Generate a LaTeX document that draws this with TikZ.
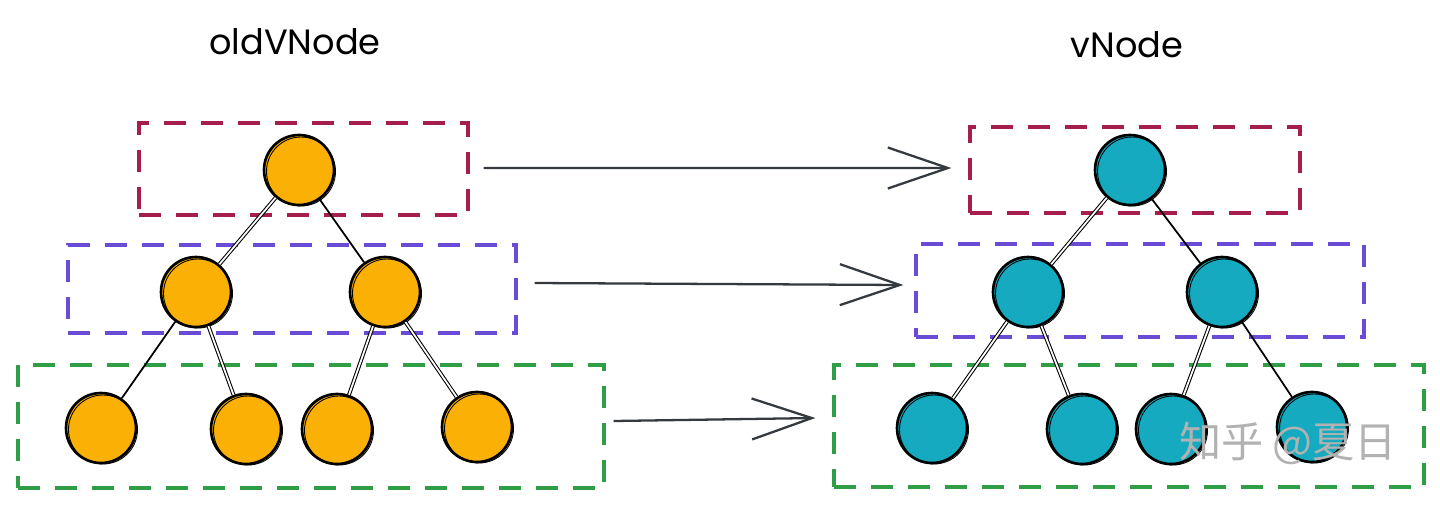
\documentclass[tikz,border=0pt]{standalone}
\usepackage{fontspec}
\newfontfamily\titlefont{Poppins}
\newfontfamily\cjkfont{Noto Sans CJK SC}
\usetikzlibrary{arrows.meta}
\definecolor{orangefill}{HTML}{FAB005}
\definecolor{tealfill}{HTML}{15AABF}
\definecolor{boxmaroon}{HTML}{A61E4D}
\definecolor{boxviolet}{HTML}{6A4BD6}
\definecolor{boxgreen}{HTML}{2F9E44}
\definecolor{arrowgray}{HTML}{343A40}
\begin{document}
\begin{tikzpicture}[x=0.02cm,y=-0.02cm,
  tnode/.style={circle,draw=black,line width=1.5pt,minimum size=1.4cm,inner sep=0pt},
  oldn/.style={tnode,fill=orangefill},
  newn/.style={tnode,fill=tealfill},
  lvlbox/.style={rectangle,dash pattern=on 0.44cm off 0.3cm,line width=1.9pt,inner sep=0pt},
  edgeone/.style={line width=1pt,draw=black},
  edgetwo/.style={line width=0.6pt,draw=black,double=white,double distance=1pt},
  flow/.style={line width=1.3pt,draw=arrowgray,-{Straight Barb[length=1.2cm,width=0.82cm,line width=1.3pt]}},
  title/.style={font=\titlefont\fontsize{20}{24}\selectfont}]
\useasboundingbox (0,0) rectangle (1440,508);

% titles
\node[title] (t1) at (295,42) {oldVNode};
\node[title] (t2) at (1127,45) {vNode};

% level boxes
\node[lvlbox,draw=boxmaroon,minimum width=6.58cm,minimum height=1.84cm] (lb1) at (303.5,169) {};
\node[lvlbox,draw=boxviolet,minimum width=8.96cm,minimum height=1.76cm] (lb2) at (292,289) {};
\node[lvlbox,draw=boxgreen,minimum width=11.72cm,minimum height=2.46cm] (lb3) at (311,426.5) {};
\node[lvlbox,draw=boxmaroon,minimum width=6.6cm,minimum height=1.72cm] (rb1) at (1135,170) {};
\node[lvlbox,draw=boxviolet,minimum width=8.96cm,minimum height=1.86cm] (rb2) at (1140,290.5) {};
\node[lvlbox,draw=boxgreen,minimum width=11.8cm,minimum height=2.44cm] (rb3) at (1129,426) {};

% old tree
\node[oldn] (o1) at (299,170) {};
\node[oldn] (o2) at (196,292) {};
\node[oldn] (o3) at (385,292) {};
\node[oldn] (o4) at (101,428) {};
\node[oldn] (o5) at (246,429) {};
\node[oldn] (o6) at (337,429) {};
\node[oldn] (o7) at (477,427) {};

% new tree
\node[newn] (n1) at (1130,170) {};
\node[newn] (n2) at (1028,292) {};
\node[newn] (n3) at (1222,292) {};
\node[newn] (n4) at (932,428) {};
\node[newn] (n5) at (1082,429) {};
\node[newn] (n6) at (1171,429) {};
\node[newn] (n7) at (1312,427) {};

% sketchy second outlines
\foreach \n in {o1,o2,o3,o4,o5,o6,o7,n1,n2,n3,n4,n5,n6,n7}{
  \draw[line width=0.5pt] ([shift={(0.04cm,-0.03cm)}]\n.center) circle[radius=0.69cm];
}

% edges
\draw[edgetwo] (o1) -- (o2);
\draw[edgeone] (o1) -- (o3);
\draw[edgeone] (o2) -- (o4);
\draw[edgetwo] (o2) -- (o5);
\draw[edgetwo] (o3) -- (o6);
\draw[edgetwo] (o3) -- (o7);
\draw[edgetwo] (n1) -- (n2);
\draw[edgeone] (n1) -- (n3);
\draw[edgetwo] (n2) -- (n4);
\draw[edgetwo] (n2) -- (n5);
\draw[edgetwo] (n3) -- (n6);
\draw[edgeone] (n3) -- (n7);

% level arrows
\draw[flow] ([xshift=0.28cm,yshift=0.02cm]lb1.east) -- ([xshift=-0.34cm,yshift=0.04cm]rb1.west);
\draw[flow] ([xshift=0.34cm,yshift=0.12cm]lb2.east) -- ([xshift=-0.22cm,yshift=0.11cm]rb2.west);
\draw[flow] ([xshift=0.16cm,yshift=0.11cm]lb3.east) -- ([xshift=-0.34cm,yshift=0.16cm]rb3.west);

% watermark
\node[font=\cjkfont\fontsize{24}{28}\selectfont,text=black!30] (wm) at (1288,443) {知乎 @夏日};
\end{tikzpicture}
\end{document}
